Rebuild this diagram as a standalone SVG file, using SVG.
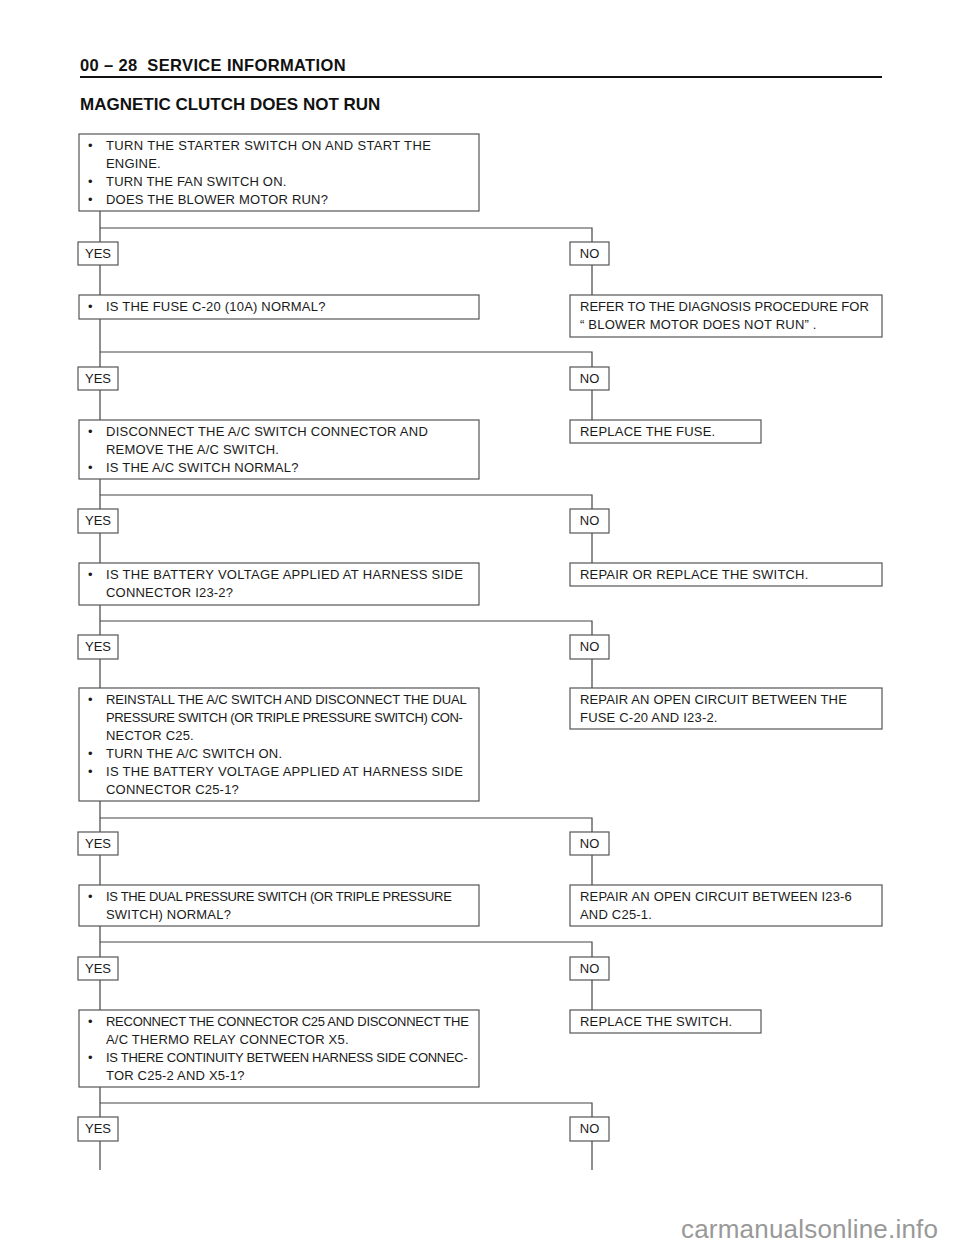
<svg xmlns="http://www.w3.org/2000/svg" width="960" height="1250" viewBox="0 0 960 1250">
<style>
.bx{fill:#fff;stroke:#555;stroke-width:1.2}
.ln{fill:none;stroke:#444;stroke-width:1.2}
.t{font-family:"Liberation Sans",Arial,sans-serif;font-size:13px;letter-spacing:0.2px;fill:#1a1a1a}
.lb{font-family:"Liberation Sans",Arial,sans-serif;font-size:13px;fill:#1a1a1a;text-anchor:middle}
.h{font-family:"Liberation Sans",Arial,sans-serif;font-weight:bold;fill:#111}
</style>
<rect width="960" height="1250" fill="#fff"/>
<text class="h" x="80" y="71" font-size="16.5" letter-spacing="0.35" xml:space="preserve">00 – 28  SERVICE INFORMATION</text>
<line x1="80" y1="77" x2="882" y2="77" stroke="#111" stroke-width="2"/>
<text class="h" x="80" y="110" font-size="17">MAGNETIC CLUTCH DOES NOT RUN</text>

<g id="connectors">
<path class="ln" d="M100 211V295M100 228H592V295"/>
<path class="ln" d="M100 319V420M100 352H592V420"/>
<path class="ln" d="M100 479V563M100 495H592V563"/>
<path class="ln" d="M100 605V688M100 621H592V688"/>
<path class="ln" d="M100 801V885M100 818H592V885"/>
<path class="ln" d="M100 926V1010M100 942H592V1010"/>
<path class="ln" d="M100 1087V1170M100 1103H592V1170"/>
</g>

<g id="q1"><rect class="bx" x="79" y="134" width="400" height="77"/>
<text class="t" x="88" y="150">•</text><text class="t" x="106" y="150" textLength="325" lengthAdjust="spacing">TURN THE STARTER SWITCH ON AND START THE</text>
<text class="t" x="106" y="168">ENGINE.</text>
<text class="t" x="88" y="186">•</text><text class="t" x="106" y="186">TURN THE FAN SWITCH ON.</text>
<text class="t" x="88" y="204">•</text><text class="t" x="106" y="204">DOES THE BLOWER MOTOR RUN?</text></g>

<g id="yes1"><rect class="bx" x="78" y="242" width="40" height="23"/><text class="lb" x="98" y="258">YES</text></g>
<g id="no1"><rect class="bx" x="570" y="242" width="39" height="23"/><text class="lb" x="589.5" y="258">NO</text></g>

<g id="q2"><rect class="bx" x="79" y="295" width="400" height="24"/>
<text class="t" x="88" y="311">•</text><text class="t" x="106" y="311">IS THE FUSE C-20 (10A) NORMAL?</text></g>
<g id="r1"><rect class="bx" x="570" y="295" width="312" height="42"/>
<text class="t" x="580" y="311" textLength="289" lengthAdjust="spacing">REFER TO THE DIAGNOSIS PROCEDURE FOR</text>
<text class="t" x="580" y="329">“ BLOWER MOTOR DOES NOT RUN” .</text></g>

<g id="yes2"><rect class="bx" x="78" y="367" width="40" height="23"/><text class="lb" x="98" y="383">YES</text></g>
<g id="no2"><rect class="bx" x="570" y="367" width="39" height="23"/><text class="lb" x="589.5" y="383">NO</text></g>

<g id="q3"><rect class="bx" x="79" y="420" width="400" height="59"/>
<text class="t" x="88" y="436">•</text><text class="t" x="106" y="436" textLength="322" lengthAdjust="spacing">DISCONNECT THE A/C SWITCH CONNECTOR AND</text>
<text class="t" x="106" y="454">REMOVE THE A/C SWITCH.</text>
<text class="t" x="88" y="472">•</text><text class="t" x="106" y="472">IS THE A/C SWITCH NORMAL?</text></g>
<g id="r2"><rect class="bx" x="570" y="420" width="191" height="23"/>
<text class="t" x="580" y="436">REPLACE THE FUSE.</text></g>

<g id="yes3"><rect class="bx" x="78" y="509" width="40" height="24"/><text class="lb" x="98" y="525">YES</text></g>
<g id="no3"><rect class="bx" x="570" y="509" width="39" height="24"/><text class="lb" x="589.5" y="525">NO</text></g>

<g id="q4"><rect class="bx" x="79" y="563" width="400" height="42"/>
<text class="t" x="88" y="579">•</text><text class="t" x="106" y="579" textLength="357" lengthAdjust="spacing">IS THE BATTERY VOLTAGE APPLIED AT HARNESS SIDE</text>
<text class="t" x="106" y="597">CONNECTOR I23-2?</text></g>
<g id="r3"><rect class="bx" x="570" y="563" width="312" height="23"/>
<text class="t" x="580" y="579">REPAIR OR REPLACE THE SWITCH.</text></g>

<g id="yes4"><rect class="bx" x="78" y="635" width="40" height="24"/><text class="lb" x="98" y="651">YES</text></g>
<g id="no4"><rect class="bx" x="570" y="635" width="39" height="24"/><text class="lb" x="589.5" y="651">NO</text></g>

<g id="q5"><rect class="bx" x="79" y="688" width="400" height="113"/>
<text class="t" x="88" y="704">•</text><text class="t" x="106" y="704" textLength="361" lengthAdjust="spacing">REINSTALL THE A/C SWITCH AND DISCONNECT THE DUAL</text>
<text class="t" x="106" y="722" textLength="357" lengthAdjust="spacing">PRESSURE SWITCH (OR TRIPLE PRESSURE SWITCH) CON-</text>
<text class="t" x="106" y="740">NECTOR C25.</text>
<text class="t" x="88" y="758">•</text><text class="t" x="106" y="758">TURN THE A/C SWITCH ON.</text>
<text class="t" x="88" y="776">•</text><text class="t" x="106" y="776" textLength="357" lengthAdjust="spacing">IS THE BATTERY VOLTAGE APPLIED AT HARNESS SIDE</text>
<text class="t" x="106" y="794">CONNECTOR C25-1?</text></g>
<g id="r4"><rect class="bx" x="570" y="688" width="312" height="41"/>
<text class="t" x="580" y="704" textLength="267" lengthAdjust="spacing">REPAIR AN OPEN CIRCUIT BETWEEN THE</text>
<text class="t" x="580" y="722">FUSE C-20 AND I23-2.</text></g>

<g id="yes5"><rect class="bx" x="78" y="832" width="40" height="23"/><text class="lb" x="98" y="848">YES</text></g>
<g id="no5"><rect class="bx" x="570" y="832" width="39" height="23"/><text class="lb" x="589.5" y="848">NO</text></g>

<g id="q6"><rect class="bx" x="79" y="885" width="400" height="41"/>
<text class="t" x="88" y="901">•</text><text class="t" x="106" y="901" textLength="346" lengthAdjust="spacing">IS THE DUAL PRESSURE SWITCH (OR TRIPLE PRESSURE</text>
<text class="t" x="106" y="919">SWITCH) NORMAL?</text></g>
<g id="r5"><rect class="bx" x="570" y="885" width="312" height="41"/>
<text class="t" x="580" y="901" textLength="272" lengthAdjust="spacing">REPAIR AN OPEN CIRCUIT BETWEEN I23-6</text>
<text class="t" x="580" y="919">AND C25-1.</text></g>

<g id="yes6"><rect class="bx" x="78" y="957" width="40" height="23"/><text class="lb" x="98" y="973">YES</text></g>
<g id="no6"><rect class="bx" x="570" y="957" width="39" height="23"/><text class="lb" x="589.5" y="973">NO</text></g>

<g id="q7"><rect class="bx" x="79" y="1010" width="400" height="77"/>
<text class="t" x="88" y="1026">•</text><text class="t" x="106" y="1026" textLength="363" lengthAdjust="spacing">RECONNECT THE CONNECTOR C25 AND DISCONNECT THE</text>
<text class="t" x="106" y="1044">A/C THERMO RELAY CONNECTOR X5.</text>
<text class="t" x="88" y="1062">•</text><text class="t" x="106" y="1062" textLength="362" lengthAdjust="spacing">IS THERE CONTINUITY BETWEEN HARNESS SIDE CONNEC-</text>
<text class="t" x="106" y="1080">TOR C25-2 AND X5-1?</text></g>
<g id="r6"><rect class="bx" x="570" y="1010" width="191" height="23"/>
<text class="t" x="580" y="1026">REPLACE THE SWITCH.</text></g>

<g id="yes7"><rect class="bx" x="78" y="1117" width="40" height="24"/><text class="lb" x="98" y="1133">YES</text></g>
<g id="no7"><rect class="bx" x="570" y="1117" width="39" height="24"/><text class="lb" x="589.5" y="1133">NO</text></g>

<text x="681" y="1238" font-family="'Liberation Sans',Arial,sans-serif" font-size="26" letter-spacing="0.2" fill="#999">carmanualsonline.info</text>
</svg>
